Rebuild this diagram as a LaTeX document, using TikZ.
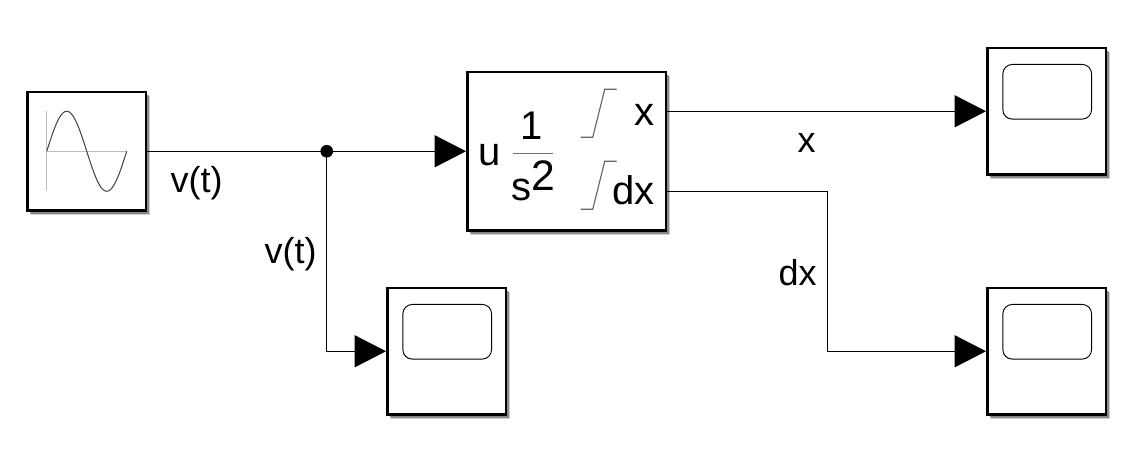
\documentclass[tikz,border=0pt]{standalone}
\usepackage{fontspec}
\setmainfont{Liberation Sans}
\usetikzlibrary{arrows.meta,shadows,calc}
\tikzset{
  x=0.75pt,y=-0.75pt,
  blockbox/.style={draw=black,fill=white,line width=2.1pt,inner sep=0pt,
    drop shadow={shadow xshift=3.0pt,shadow yshift=-3.0pt,fill=black,opacity=0.18},
    drop shadow={shadow xshift=2.3pt,shadow yshift=-2.3pt,fill=black,opacity=0.35}},
  sourcebox/.style={blockbox,minimum width=89pt,minimum height=89pt},
  intbox/.style={blockbox,minimum width=149pt,minimum height=119pt},
  scopebox/.style={blockbox,minimum width=89pt,minimum height=95pt},
  screen/.style={draw=black,line width=0.7pt,rounded corners=7pt,minimum width=66.5pt,minimum height=41pt,inner sep=0pt},
  wire/.style={draw=black,line width=0.75pt},
  tipwire/.style={wire,-{Triangle[length=23.5pt,width=24pt]}},
  lbl/.style={font=\fontsize{27pt}{30pt}\selectfont,inner sep=0pt,text=black},
  biglbl/.style={font=\fontsize{30pt}{32pt}\selectfont,inner sep=0pt,text=black},
  ico/.style={draw=black!60,line width=0.85pt},
  dotnode/.style={circle,fill=black,inner sep=0pt,minimum size=9.5pt},
}
\begin{document}
\begin{tikzpicture}
\fill[white] (0,0) rectangle (1133,453);
\useasboundingbox (0,0) rectangle (1133,453);
\begin{scope}[yshift=-0.2pt,xshift=-0.2pt]
% blocks
\node[sourcebox] (sine) at (87,151) {};
\node[intbox] (int) at (567,151) {};
\node[scopebox] (scopeV) at (447,351) {};
\node[scopebox] (scopeX) at (1047,111) {};
\node[scopebox] (scopeDX) at (1047,351) {};
\node[screen] (screenV) at (447.5,331.5) {};
\node[screen] (screenX) at (1047.5,91.5) {};
\node[screen] (screenDX) at (1047.5,331.5) {};
% sine icon
\draw[draw=black!25,line width=0.6pt] (47,111) -- (47,191);
\draw[draw=black!25,line width=1pt] (47,151) -- (127,151);
\draw[draw=black!75,line width=0.75pt] plot[smooth,domain=0:360,samples=73] ({47+\x/360*80},{151-40*sin(\x)});
% integrator icon
\draw[ico] (581,137) -- (593,137) -- (605,89) -- (617,89);
\draw[ico] (581,209) -- (593,209) -- (605,161) -- (617,161);
\draw[draw=black!55,line width=1pt] (513,153) -- (553,153);
\node[biglbl] (lblU) at (490,155) {u};
\node[biglbl] (lblOne) at (532,125) {1};
\node[biglbl,anchor=base west] (lblS) at (511,200) {s\raisebox{7pt}{\fontsize{32pt}{32pt}\selectfont 2}};
\node[biglbl] (lblPortX) at (645,115) {x};
\node[biglbl] (lblPortDX) at (634,190) {dx};
% ports and junction
\coordinate (portX) at (667,111);
\coordinate (portDX) at (667,191);
\coordinate (elbow) at (828,191);
\node[dotnode] (junction) at (327,151) {};
% wires
\draw[wire] (sine.east) -- (junction.center);
\draw[tipwire] (junction.center) -- (int.west);
\draw[tipwire] (junction.center) |- (scopeV.west);
\draw[tipwire] (portX) -- (scopeX.west);
\draw[tipwire] (portDX) -- (elbow) |- (scopeDX.west);
% labels
\node[lbl] (lblV1) at (197,183) {v(t)};
\node[lbl] (lblV2) at (291,254) {v(t)};
\node[lbl] (lblX) at (807,143) {x};
\node[lbl] (lblDX) at (798,272) {dx};
\end{scope}
\end{tikzpicture}
\end{document}
